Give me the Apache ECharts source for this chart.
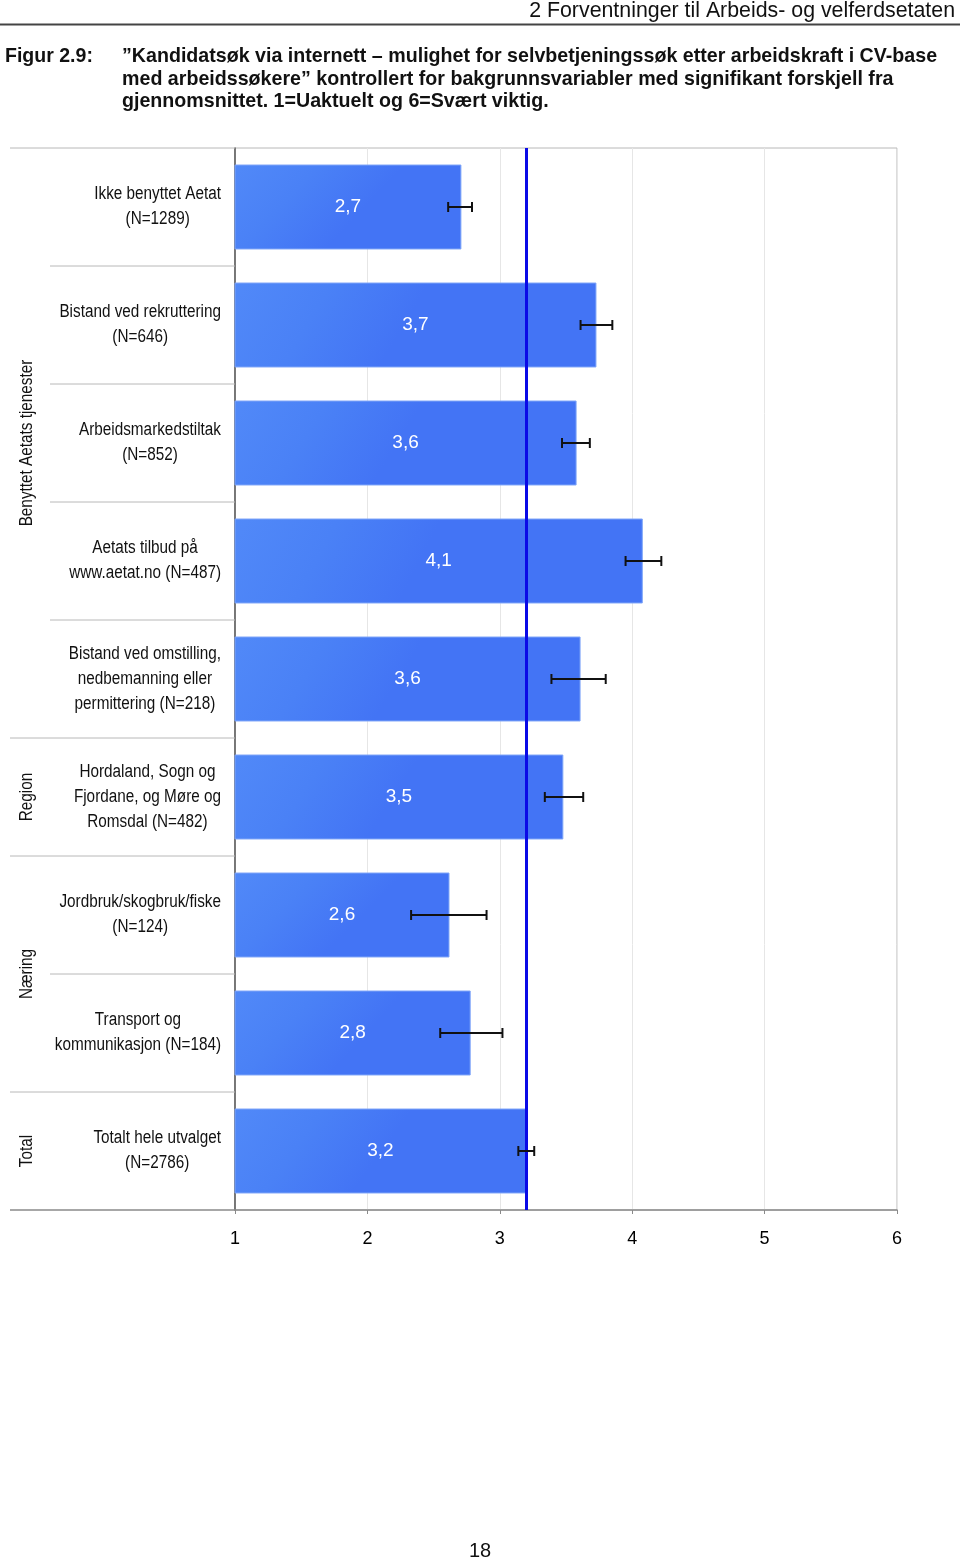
<!DOCTYPE html>
<html><head><meta charset="utf-8">
<script src="https://cdn.jsdelivr.net/npm/echarts@6/dist/echarts.min.js"></script>
<style>html,body{margin:0;padding:0;background:#fff}#c{width:960px;height:1562px}</style>
</head><body><div id="c"></div>
<script>
// ---- data ----
const categories = [
  'Ikke benyttet Aetat\n(N=1289)',
  'Bistand ved rekruttering\n(N=646)',
  'Arbeidsmarkedstiltak\n(N=852)',
  'Aetats tilbud på\nwww.aetat.no (N=487)',
  'Bistand ved omstilling,\nnedbemanning eller\npermittering (N=218)',
  'Hordaland, Sogn og\nFjordane, og Møre og\nRomsdal (N=482)',
  'Jordbruk/skogbruk/fiske\n(N=124)',
  'Transport og\nkommunikasjon (N=184)',
  'Totalt hele utvalget\n(N=2786)'
];
const means   = [2.71, 3.73, 3.58, 4.08, 3.61, 3.48, 2.62, 2.78, 3.20];
const errLow  = [2.61, 3.61, 3.47, 3.95, 3.39, 3.34, 2.33, 2.55, 3.14];
const errHigh = [2.79, 3.85, 3.68, 4.22, 3.80, 3.63, 2.90, 3.02, 3.26];
const overallMean = 3.2;
const groupNames = ['Benyttet Aetats tjenester', 'Region', 'Næring', 'Total'];
const groupFirst = [0, 5, 6, 8];
const groupLast  = [4, 5, 7, 8];
const xMin = 1, xMax = 6, xStep = 1;

// ---- build ----
const SANS = "'Liberation Sans', Arial, sans-serif";
const CONDENSE = 0.85;
const chart = echarts.init(document.getElementById('c'), null, {renderer: 'canvas'});

const n = categories.length;
const groupBounds = new Set();
groupFirst.forEach(g => groupBounds.add(g));
groupLast.forEach(g => groupBounds.add(g + 1));
const boundaryData = [];
for (let b = 0; b <= n; b++) boundaryData.push([xMin, b, groupBounds.has(b) ? 1 : 0]);
const groupData = groupNames.map((g, i) => [xMin, groupFirst[i], groupLast[i], i]);
const errData = means.map((m, i) => [errLow[i], i, errHigh[i]]);
const labelData = categories.map((c, i) => [xMin, i]);

const option = {
  animation: false,
  backgroundColor: '#fff',
  grid: {left: 235, right: 63, top: 148, bottom: 352, show: true, borderColor: '#b8b8b8', borderWidth: 1, containLabel: false},
  xAxis: {
    type: 'value', min: xMin, max: xMax, interval: xStep,
    axisLine: {show: true, lineStyle: {color: '#8a8a8a', width: 1.5}},
    axisTick: {show: true, length: 4, lineStyle: {color: '#8a8a8a'}},
    splitLine: {show: true, lineStyle: {color: '#e6e6e6', width: 1}},
    axisLabel: {fontSize: 18, color: '#000', fontFamily: SANS, margin: 20}
  },
  yAxis: {
    type: 'category', data: categories, inverse: true,
    axisLine: {show: true, lineStyle: {color: '#555', width: 1.5}},
    axisTick: {show: false},
    splitLine: {show: false},
    axisLabel: {show: false}
  },
  series: [
    {
      type: 'bar', data: means, barCategoryGap: '28%', z: 2,
      itemStyle: {
        color: new echarts.graphic.LinearGradient(0, 0, 0.4, 1, [
          {offset: 0, color: '#5189f8'}, {offset: 0.5, color: '#4a81f6'}, {offset: 1, color: '#4374f5'}
        ]),
        borderColor: '#7ea5f8', borderWidth: 1
      },
      label: {
        show: true, position: 'inside', color: '#fff', fontSize: 19, fontFamily: SANS,
        formatter: p => p.value.toFixed(1).replace('.', ',')
      },
      markLine: {
        silent: true, symbol: 'none', z: 5,
        label: {show: false},
        lineStyle: {color: '#0a0ae6', width: 3, type: 'solid'},
        data: [{xAxis: overallMean}]
      }
    },
    {
      type: 'custom', z: 10, clip: false,
      data: errData,
      encode: {x: [0, 2], y: 1},
      renderItem: (params, api) => {
        const a = api.coord([api.value(0), api.value(1)]);
        const b = api.coord([api.value(2), api.value(1)]);
        const cap = 5;
        const st = {stroke: '#111', lineWidth: 2};
        return {type: 'group', children: [
          {type: 'line', shape: {x1: a[0], y1: a[1], x2: b[0], y2: b[1]}, style: st},
          {type: 'line', shape: {x1: a[0], y1: a[1] - cap, x2: a[0], y2: a[1] + cap}, style: st},
          {type: 'line', shape: {x1: b[0], y1: b[1] - cap, x2: b[0], y2: b[1] + cap}, style: st}
        ]};
      }
    },
    {
      // category labels (condensed, lines centred within a right-aligned block)
      type: 'custom', z: 3, clip: false, silent: true,
      data: labelData,
      encode: {x: 0, y: 1},
      renderItem: (params, api) => {
        const c = api.coord([xMin, api.value(1)]);
        const txt = categories[api.value(1)].split('\n').map(l => '{c|' + l + '}').join('\n');
        return {type: 'text', x: c[0] - 14, y: c[1], scaleX: CONDENSE,
          style: {text: txt, textAlign: 'right', textVerticalAlign: 'middle',
            rich: {c: {align: 'center', fontSize: 18, fontFamily: SANS, lineHeight: 25, fill: '#111'}},
            font: '18px ' + SANS, fill: '#111'}};
      }
    },
    {
      type: 'custom', z: 1, clip: false, silent: true,
      data: boundaryData,
      encode: {x: 0, y: 1},
      renderItem: (params, api) => {
        const c0 = api.coord([xMin, 0]);
        const band = api.size([0, 1])[1];
        const y = c0[1] + (api.value(1) - 0.5) * band;
        const long = api.value(2) === 1;
        const last = api.value(1) === n;
        return {type: 'line', shape: {x1: long ? 10 : 50, y1: y, x2: c0[0], y2: y},
          style: {stroke: last ? '#8a8a8a' : '#b8b8b8', lineWidth: last ? 1.5 : 1}};
      }
    },
    {
      type: 'custom', z: 1, clip: false, silent: true,
      data: groupData,
      encode: {x: 0, y: 1},
      renderItem: (params, api) => {
        const c0 = api.coord([xMin, 0]);
        const band = api.size([0, 1])[1];
        const yc = c0[1] + ((api.value(1) + api.value(2)) / 2) * band;
        return {type: 'text', x: 27, y: yc, rotation: Math.PI / 2, scaleX: CONDENSE,
          style: {text: groupNames[api.value(3)], textAlign: 'center', textVerticalAlign: 'middle',
            font: '18px ' + SANS, fill: '#111'}};
      }
    }
  ],
  graphic: [
    {type: 'text', x: 955, y: 11, scaleX: 0.97, style: {text: '2 Forventninger til Arbeids- og velferdsetaten', textAlign: 'right', textVerticalAlign: 'middle', font: '22px ' + SANS, fill: '#111'}},
    {type: 'line', shape: {x1: 0, y1: 24.5, x2: 960, y2: 24.5}, style: {stroke: '#444', lineWidth: 2}},
    {type: 'text', x: 5, y: 56, scaleX: 0.93, style: {text: 'Figur 2.9:', textAlign: 'left', textVerticalAlign: 'middle', font: 'bold 21px ' + SANS, fill: '#111'}},
    {type: 'text', x: 122, y: 56, scaleX: 0.935, style: {text: '”Kandidatsøk via internett – mulighet for selvbetjeningssøk etter arbeidskraft i CV-base', textAlign: 'left', textVerticalAlign: 'middle', font: 'bold 21px ' + SANS, fill: '#111'}},
    {type: 'text', x: 122, y: 79, scaleX: 0.935, style: {text: 'med arbeidssøkere” kontrollert for bakgrunnsvariabler med signifikant forskjell fra', textAlign: 'left', textVerticalAlign: 'middle', font: 'bold 21px ' + SANS, fill: '#111'}},
    {type: 'text', x: 122, y: 101, scaleX: 0.935, style: {text: 'gjennomsnittet. 1=Uaktuelt og 6=Svært viktig.', textAlign: 'left', textVerticalAlign: 'middle', font: 'bold 21px ' + SANS, fill: '#111'}},
    {type: 'text', x: 480, y: 1551, style: {text: '18', textAlign: 'center', textVerticalAlign: 'middle', font: '20px ' + SANS, fill: '#111'}}
  ]
};
chart.setOption(option);
</script></body></html>
